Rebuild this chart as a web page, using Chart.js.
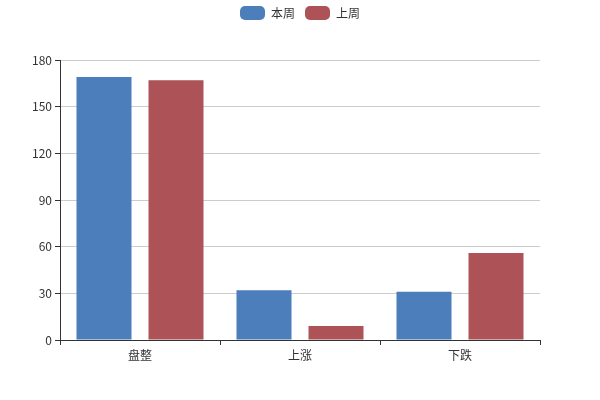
<!DOCTYPE html>
<html><head><meta charset="utf-8">
<script src="https://cdn.jsdelivr.net/npm/chart.js@4/dist/chart.umd.min.js"></script>
<style>html,body{margin:0;padding:0;background:#fff}#wrap{width:600px;height:400px}</style>
</head><body><div id="wrap"><canvas id="c" width="600" height="400"></canvas></div>
<script>
const categories = ['盘整', '上涨', '下跌'];
const thisWeek = [169, 32, 31];
const lastWeek = [167, 9, 56];
const seriesNames = ['本周', '上周'];
const yTicks = [0, 30, 60, 90, 120, 150, 180];

const FONT = "'Noto Sans CJK SC', 'Noto Sans', sans-serif";

const fixLegend = {
  id: 'fixLegend',
  afterInit(chart) {
    const lg = chart.legend;
    if (lg && !lg._wrapped) {
      const orig = lg.fit;
      lg.fit = function () { orig.call(this); this.height = 64; this.minSize && (this.minSize.height = 64); };
      lg._wrapped = true;
    }
  }
};

new Chart(document.getElementById('c'), {
  type: 'bar',
  data: {
    labels: categories,
    datasets: [
      { label: seriesNames[0], data: thisWeek, backgroundColor: '#4b7ebb', borderWidth: 0, borderRadius: 0,
        categoryPercentage: 0.9, barPercentage: 0.764 },
      { label: seriesNames[1], data: lastWeek, backgroundColor: '#ad5358', borderWidth: 0, borderRadius: 0,
        categoryPercentage: 0.9, barPercentage: 0.764 }
    ]
  },
  plugins: [fixLegend],
  options: {
    responsive: false,
    animation: false,
    layout: { padding: { left: 0, right: 0, top: -4, bottom: 0 } },
    plugins: {
      tooltip: { enabled: false },
      legend: {
        display: true,
        position: 'top',
        align: 'center',
        labels: {
          font: { family: FONT, size: 12 },
          color: '#333',
          boxWidth: 25, boxHeight: 14,
          useBorderRadius: true, borderRadius: 5,
          padding: 10
        }
      }
    },
    scales: {
      x: {
        afterFit: s => { s.height = 60; },
        grid: { display: true, drawOnChartArea: false, drawTicks: true, tickLength: 5, tickColor: '#333', offset: true },
        border: { display: true, color: '#333', width: 1 },
        ticks: { font: { family: FONT, size: 12 }, color: '#333', padding: 3 }
      },
      y: {
        min: 0, max: 180,
        afterFit: s => { s.width = 60; },
        afterBuildTicks: s => { s.ticks = yTicks.map(v => ({ value: v })); },
        grid: { color: '#cccccc', tickColor: '#333', tickLength: 5, drawTicks: true },
        border: { display: true, color: '#333', width: 1 },
        ticks: { font: { family: FONT, size: 12 }, color: '#333', padding: 3 }
      },
      yRight: {
        position: 'right',
        display: true,
        min: 0, max: 180,
        afterFit: s => { s.width = 60; },
        grid: { display: false },
        border: { display: false },
        ticks: { display: false }
      }
    }
  }
});
</script></body></html>
